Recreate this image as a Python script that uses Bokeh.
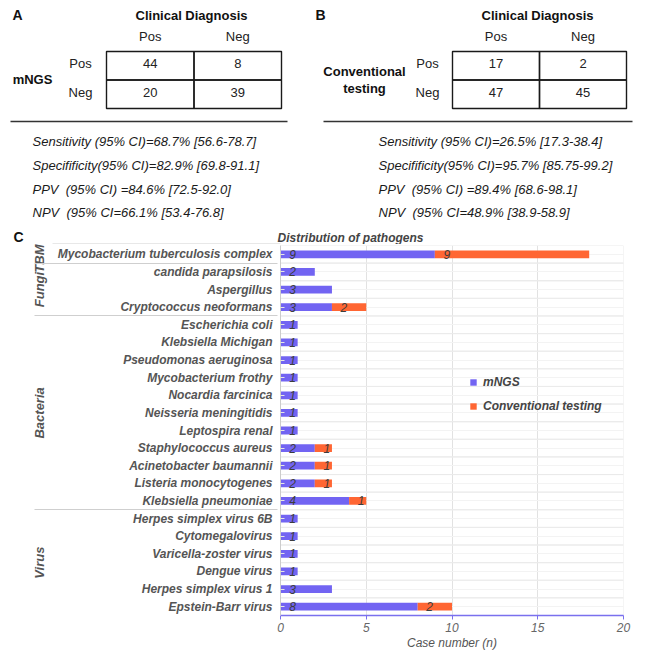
from bokeh.plotting import figure
from bokeh.models import Range1d, FactorRange, FixedTicker, Legend, LegendItem, ColumnDataSource
from bokeh.layouts import column, row
from bokeh.embed import file_html
from bokeh.resources import INLINE
from bokeh.core.properties import value

FONT = "Liberation Sans"
PURPLE = "#7264F2"
ORANGE = "#FF6633"
W = 640

# ---------------- Panels A / B data ----------------
col_labels = ["Pos", "Neg"]
row_labels = ["Pos", "Neg"]
mngs_counts = [[44, 8], [20, 39]]
conv_counts = [[17, 2], [47, 45]]
mngs_stats = [
    "Sensitivity (95% CI)=68.7% [56.6-78.7]",
    "Specifificity(95% CI)=82.9% [69.8-91.1]",
    "PPV \u00a0(95% CI) =84.6% [72.5-92.0]",
    "NPV \u00a0(95% CI=66.1% [53.4-76.8]",
]
conv_stats = [
    "Sensitivity (95% CI)=26.5% [17.3-38.4]",
    "Specifificity(95% CI)=95.7% [85.75-99.2]",
    "PPV \u00a0(95% CI) =89.4% [68.6-98.1]",
    "NPV \u00a0(95% CI=48.9% [38.9-58.9]",
]

# ---------------- Panel C data ----------------
pathogen_group = ["TBM",
                  "Fungi", "Fungi", "Fungi",
                  "Bacteria", "Bacteria", "Bacteria", "Bacteria", "Bacteria", "Bacteria",
                  "Bacteria", "Bacteria", "Bacteria", "Bacteria", "Bacteria",
                  "Virus", "Virus", "Virus", "Virus", "Virus", "Virus"]
pathogens = ["Mycobacterium tuberculosis complex",
             "candida parapsilosis", "Aspergillus", "Cryptococcus neoformans",
             "Escherichia coli", "Klebsiella Michigan", "Pseudomonas aeruginosa",
             "Mycobacterium frothy", "Nocardia farcinica", "Neisseria meningitidis",
             "Leptospira renal", "Staphylococcus aureus", "Acinetobacter baumannii",
             "Listeria monocytogenes", "Klebsiella pneumoniae",
             "Herpes simplex virus 6B", "Cytomegalovirus", "Varicella-zoster virus",
             "Dengue virus", "Herpes simplex virus 1", "Epstein-Barr virus"]
mngs_cases = [9, 2, 3, 3, 1, 1, 1, 1, 1, 1, 1, 2, 2, 2, 4, 1, 1, 1, 1, 3, 8]
conv_cases = [9, 0, 0, 2, 0, 0, 0, 0, 0, 0, 0, 1, 1, 1, 1, 0, 0, 0, 0, 0, 2]
x_ticks = [0, 5, 10, 15, 20]

# ================= Top figure (panels A and B) =================
TOP_H = 244
top = figure(width=W, height=TOP_H, x_range=Range1d(0, W), y_range=Range1d(TOP_H, 0),
             output_backend="svg", toolbar_location=None, min_border=0,
             outline_line_color=None)
top.axis.visible = False
top.grid.visible = False

def txt(p, xs, ys, texts, size="13px", style="normal", color="#111111", align="center"):
    p.text(x=xs, y=ys, text=texts, text_font=value(FONT), text_font_size=size,
           text_font_style=style, text_color=color, text_align=align, text_baseline="middle")

def panel(p, letter, letter_x, cd_x, tab_left, cw, counts, rlab_x, rtitle, rtitle_x,
          rtitle_ys, line_x0, line_x1, stats, stats_x):
    rh = 28.5
    tab_top = 51
    txt(p, [letter_x], [14], [letter], size="14px", style="bold", align="left")
    txt(p, [cd_x], [15], ["Clinical Diagnosis"], style="bold")
    cx = [tab_left + cw * (j + 0.5) for j in range(len(col_labels))]
    txt(p, cx, [36] * len(cx), col_labels, color="#222222")
    ry = [tab_top + rh * (i + 0.5) for i in range(len(row_labels))]
    txt(p, [rlab_x] * len(ry), [y - 2 for y in ry], row_labels, color="#222222")
    xs, ys, vals = [], [], []
    for i in range(len(row_labels)):
        for j in range(len(col_labels)):
            xs.append(cx[j]); ys.append(ry[i]); vals.append(str(counts[i][j]))
    p.rect(x=xs, y=ys, width=cw, height=rh, fill_color=None, line_color="#1a1a1a", line_width=1.4)
    txt(p, xs, [y - 2 for y in ys], vals, color="#222222")
    txt(p, [rtitle_x] * len(rtitle), rtitle_ys, rtitle, style="bold")
    p.segment(x0=[line_x0], y0=[121], x1=[line_x1], y1=[121], line_color="#333333", line_width=1.4)
    sy = [141 + 23.8 * k for k in range(len(stats))]
    txt(p, [stats_x] * len(stats), sy, stats, style="italic", color="#1a1a1a", align="left")

panel(top, "A", 12, 191, 106, 87.5, mngs_counts, 80, ["mNGS"], 32, [79], 10, 287, mngs_stats, 32)
panel(top, "B", 315, 537, 452, 87, conv_counts, 427, ["Conventional", "testing"], 364, [71, 88],
      323, 632, conv_stats, 378)

# panel C letter, title and top separator (drawn above the chart frame)
txt(top, [13], [236], ["C"], size="14px", style="bold", align="left")
txt(top, [277], [237], ["Distribution of pathogens"], size="12px", style="bold italic",
    color="#444444", align="left")
top.segment(x0=[52], y0=[243.5], x1=[280], y1=[243.5], line_color="#d0d0d0", line_width=1)

# ================= Panel C figure =================
factors = [(g, n) for g, n in zip(pathogen_group, pathogens)][::-1]
mngs_r = mngs_cases[::-1]
conv_r = conv_cases[::-1]
total_r = [m + c for m, c in zip(mngs_r, conv_r)]

p = figure(width=W, height=408, x_range=Range1d(0, 20),
           y_range=FactorRange(*factors, factor_padding=0, group_padding=0, range_padding=0),
           output_backend="svg", toolbar_location=None,
           min_border_left=280, min_border_right=W - 623, min_border_top=1, min_border_bottom=37,
           outline_line_color=None)

src = ColumnDataSource(dict(y=factors, m=mngs_r, c=conv_r, t=total_r))

# row boundary lines
p.hbar(y="y", left=0, right=20, height=1, source=src, fill_alpha=0,
       line_color="#ebebeb", line_width=1)

r1 = p.hbar(y="y", left=0, right="m", height=0.44, source=src, fill_color=PURPLE, line_color=None)
r2 = p.hbar(y="y", left="m", right="t", height=0.44, source=src, fill_color=ORANGE, line_color=None)

lx, ly, lt = [], [], []
for f, m, c in zip(factors, mngs_r, conv_r):
    if m > 0:
        lx.append(0.7); ly.append(f); lt.append(str(m))
    if c > 0:
        lx.append(m + 0.7); ly.append(f); lt.append(str(c))
p.text(x=lx, y=ly, text=lt, text_font=value(FONT), text_font_size="12px",
       text_font_style="italic", text_color="#3d3d3d", text_align="center", text_baseline="middle")

legend = Legend(items=[LegendItem(label="mNGS", renderers=[r1]),
                       LegendItem(label="Conventional testing", renderers=[r2])],
                location=(189, 202), padding=0, margin=0, spacing=10,
                glyph_width=8, glyph_height=8, label_height=12, label_standoff=6,
                border_line_color=None, background_fill_alpha=0,
                label_text_font=FONT, label_text_font_size="12px",
                label_text_font_style="bold italic", label_text_color="#444444")
p.add_layout(legend)

p.xgrid.ticker = FixedTicker(ticks=x_ticks)
p.xgrid.grid_line_color = "#e2e2e2"
p.ygrid.grid_line_color = "#f3f3f3"

xa = p.xaxis[0]
xa.ticker = FixedTicker(ticks=x_ticks)
xa.axis_line_color = "#7a70ee"
xa.axis_line_width = 1.5
xa.major_tick_line_color = "#7a70ee"
xa.major_tick_out = 4
xa.major_tick_in = 0
xa.minor_tick_line_color = None
xa.major_label_standoff = 3
xa.major_label_text_font = FONT
xa.major_label_text_font_size = "12px"
xa.major_label_text_font_style = "italic"
xa.major_label_text_color = "#666666"
xa.axis_label = "Case number (n)"
xa.axis_label_standoff = 1
xa.axis_label_text_font = FONT
xa.axis_label_text_font_size = "12px"
xa.axis_label_text_font_style = "italic"
xa.axis_label_text_color = "#555555"

ya = p.yaxis[0]
ya.axis_line_color = "#cccccc"
ya.major_tick_in = 4
ya.major_tick_out = 0
ya.major_tick_line_color = "#e6e6e6"
ya.major_label_standoff = 8
ya.major_label_text_font = FONT
ya.major_label_text_font_size = "12px"
ya.major_label_text_font_style = "bold italic"
ya.major_label_text_color = "#555555"
ya.group_text_font = FONT
ya.group_text_font_size = "13px"
ya.group_text_font_style = "bold italic"
ya.group_text_color = "#555555"
ya.separator_line_color = "#cfcfcf"
ya.separator_line_width = 1

layout = column(row(top), row(p), spacing=0)
open("out.html", "w").write(file_html(layout, INLINE))
